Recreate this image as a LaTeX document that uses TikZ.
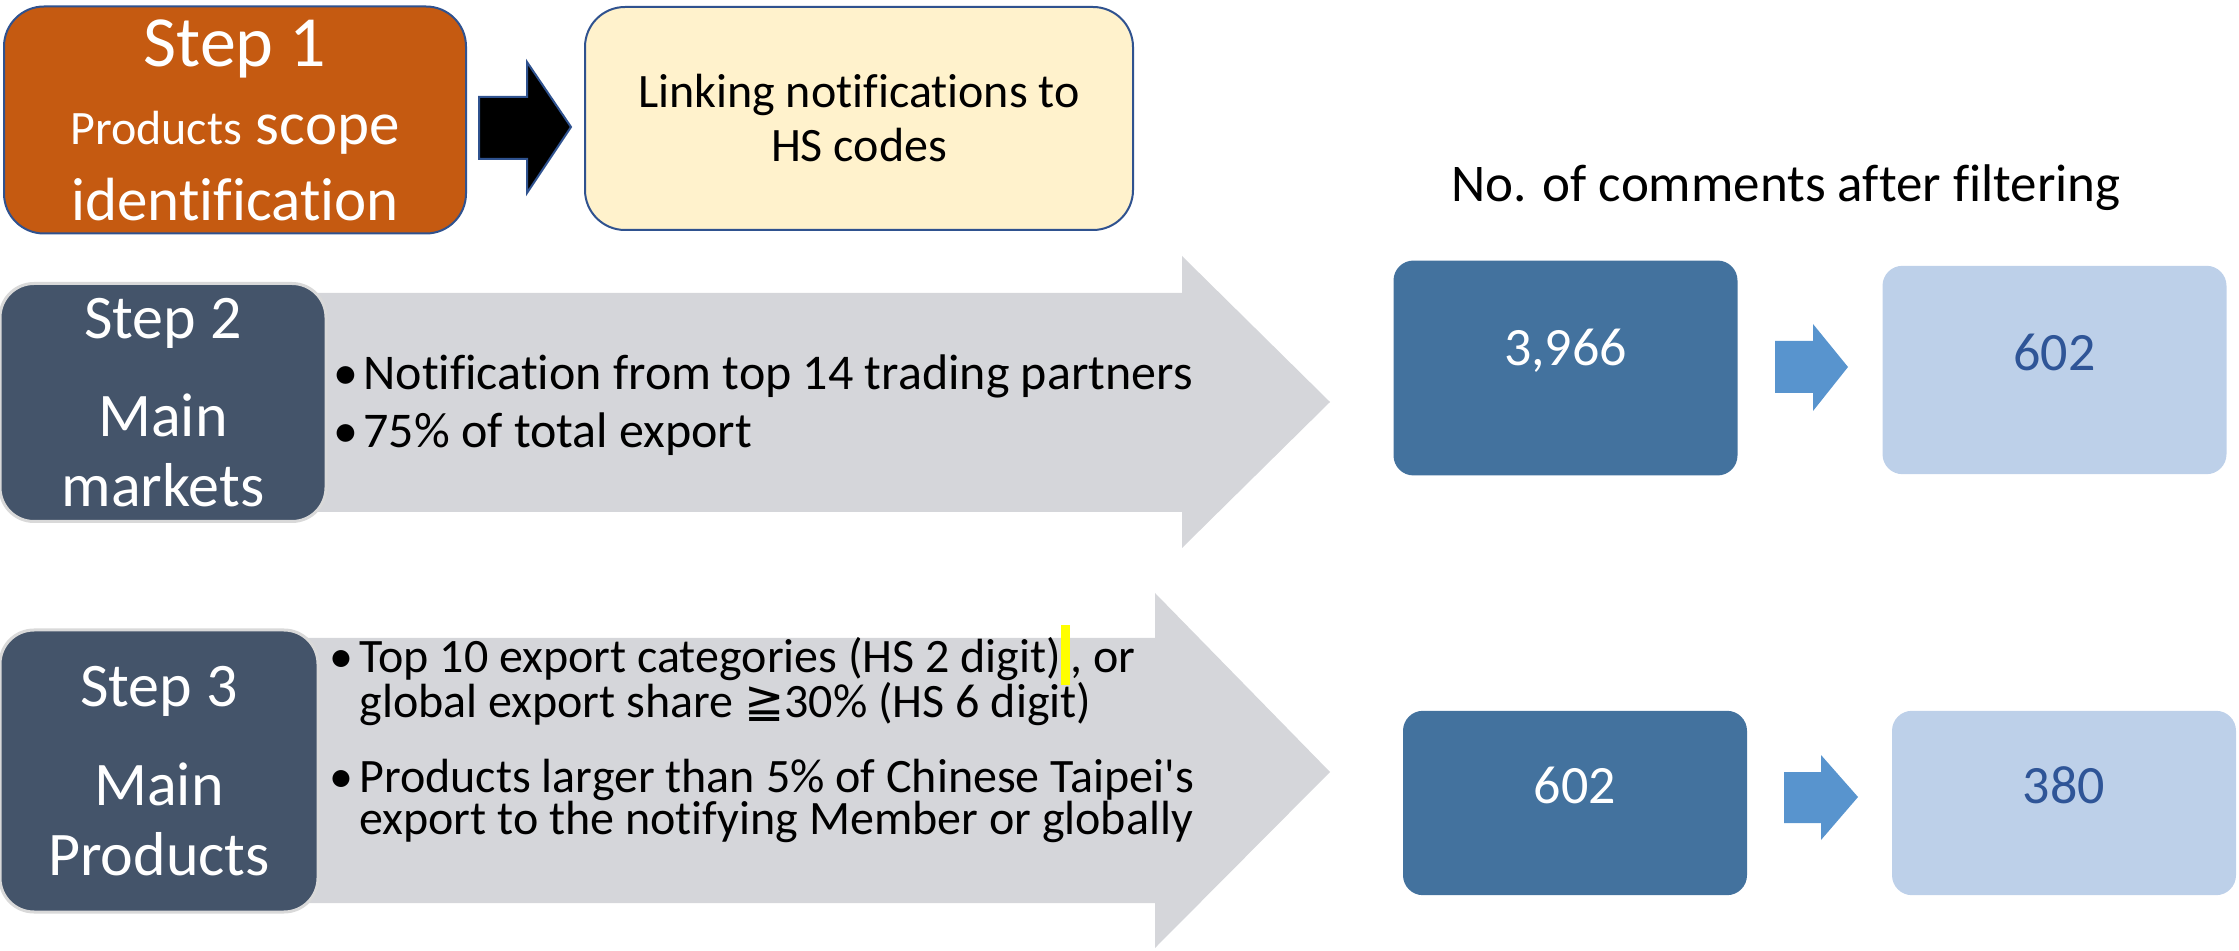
\documentclass[tikz,border=0pt]{standalone}
\usepackage{fontspec}
\setmainfont{Carlito}[Ligatures={TeXOff,NoCommon}]
\newfontfamily\symfont{DejaVu Sans}
\usetikzlibrary{shapes}

\definecolor{steporange}{RGB}{197,90,17}
\definecolor{linkfill}{RGB}{255,242,204}
\definecolor{edgeblue}{RGB}{47,82,143}
\definecolor{slate}{RGB}{68,84,106}
\definecolor{arrowgrey}{RGB}{213,214,218}
\definecolor{darkcount}{RGB}{67,114,158}
\definecolor{lightcount}{RGB}{189,208,233}
\definecolor{numblue}{RGB}{47,85,151}
\definecolor{smallarrow}{RGB}{88,148,206}
\definecolor{hlyellow}{RGB}{255,255,0}

\newcommand{\bul}{\makebox[15pt][l]{\textbullet}}

\tikzstyle{steponebox}=[rounded corners=20pt,fill=steporange,draw=edgeblue,line width=1pt,text=white,align=center,inner sep=0pt,minimum width=231pt,minimum height=113.5pt,font=\fontsize{30.5}{35.5}\selectfont]
\tikzstyle{linkbox}=[rounded corners=20pt,fill=linkfill,draw=edgeblue,line width=1pt,align=center,inner sep=0pt,minimum width=274pt,minimum height=111.5pt,font=\fontsize{24}{27}\selectfont]
\tikzstyle{stepbox}=[rounded corners=17pt,fill=slate,draw=white!85!black,line width=1.5pt,text=white,align=center,inner sep=0pt,font=\fontsize{31}{35}\selectfont]
\tikzstyle{bullettext}=[anchor=north west,align=left,inner sep=0pt]
\tikzstyle{greyarrow}=[fill=arrowgrey]
\tikzstyle{bluearrow}=[fill=smallarrow]
\tikzstyle{darkbox}=[rounded corners=10pt,fill=darkcount,text=white,inner sep=0pt,minimum width=172pt,font=\fontsize{27}{32}\selectfont]
\tikzstyle{lightbox}=[rounded corners=10pt,fill=lightcount,text=numblue,inner sep=0pt,minimum width=172pt,font=\fontsize{27}{32}\selectfont]

\begin{document}
\begin{tikzpicture}[x=0.5pt,y=-0.5pt]
    \useasboundingbox (0,0) rectangle (2239,951);
    % Big grey arrows behind steps 2 and 3
    \fill[greyarrow] (300,293) -- (1182,293) -- (1182,256) -- (1330,402) -- (1182,548) -- (1182,512) -- (300,512) -- cycle;
    \fill[greyarrow] (300,638) -- (1155,638) -- (1155,593) -- (1330,772) -- (1155,948) -- (1155,903) -- (300,903) -- cycle;
    % Step 1
    \node[steponebox] (step1) at (235,120) {{\fontsize{36}{40}\selectfont Step 1}\\[3.5pt]{\fontsize{24}{28}\selectfont Products} scope\\[2.5pt]identification};
    \node[linkbox] (hslink) at (859,118.5) {Linking notifications to\\HS codes};
    \filldraw[fill=black,draw=edgeblue,line width=1pt] (479,97) -- (527,97) -- (527,62) -- (571,127) -- (527,193) -- (527,159) -- (479,159) -- cycle;
    % Steps 2 and 3
    \node[stepbox,minimum width=163pt,minimum height=119pt] (step2) at (163,402.5) {Step 2\\[14pt]Main\\markets};
    \node[stepbox,minimum width=159pt,minimum height=141pt] (step3) at (159,771) {Step 3\\[14.5pt]Main\\Products};
    \node[bullettext,font=\fontsize{25}{29}\selectfont] (markets) at (333,354) {\bul Notification from top 14 trading partners\\\bul 75\% of total export};
    \node[bullettext,font=\fontsize{24}{21}\selectfont] (products) at (329,637) {\bul Top 10 export categories (HS 2 digit)\smash{\textcolor{hlyellow}{\rule[-6pt]{4.5pt}{30pt}}}, or\\
        \hspace*{15pt}global export share {\symfont ≧}30\% (HS 6 digit)\\[16.5pt]
        \bul Products larger than 5\% of Chinese Taipei's\\
        \hspace*{15pt}export to the notifying Member or globally};
    % Comment counts
    \node[anchor=base,font=\fontsize{26.5}{30}\selectfont] (title) at (1786,202) {No. of comments after filtering};
    \foreach \pos/\name/\val/\kind/\ht in {{(1565.5,368)/countA/{3,966}/darkbox/104pt}, {(2054.5,370)/countB/602/lightbox/104pt}, {(1575,803)/countC/602/darkbox/92pt}, {(2064,803)/countD/380/lightbox/92pt}}
        \node[\kind,minimum height=\ht] (\name) at \pos {\val};
    \fill[bluearrow] (1775,341) -- (1813,341) -- (1813,324) -- (1848,367) -- (1813,411) -- (1813,393) -- (1775,393) -- cycle;
    \fill[bluearrow] (1784,772) -- (1821,772) -- (1821,755) -- (1858,797) -- (1821,840) -- (1821,823) -- (1784,823) -- cycle;
\end{tikzpicture}
\end{document}
